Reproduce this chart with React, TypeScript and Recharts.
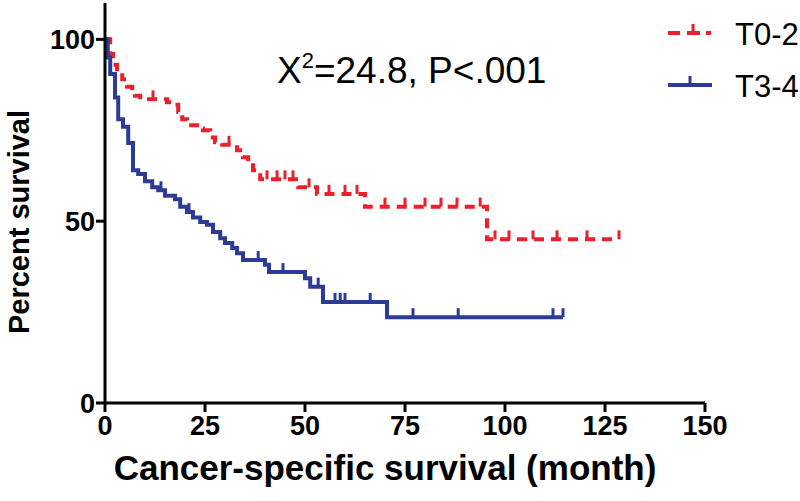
import React from "react";
import { LineChart, Line, XAxis, YAxis } from "recharts";

// Kaplan-Meier steps (month, percent surviving)
const t02Months = [0, 1.3, 2, 3, 4.3, 5.5, 6.8, 7.5, 8.8, 15.5, 16.8, 18.3, 19.3, 20.5, 23, 24.5, 26.3, 27.5, 29.3, 33, 34.5, 35.8, 37, 38.8, 48.3, 53, 65, 95.5];
const t02Survival = [100, 96, 93, 91, 89, 87, 85.5, 84.5, 83.5, 82.7, 82, 80, 78, 76.4, 75.5, 75, 73, 71.7, 71, 69.5, 67.6, 66, 64, 61.5, 59.3, 57.5, 54, 45];
const t02Censored = [12, 31, 40.5, 43, 45, 47, 51, 56, 60, 63, 70, 75, 80, 84, 88, 93.8, 97.5, 101, 107, 113, 120.5];
const t02LastMonth = 128.5;

const t34Months = [0, 0.7, 1.3, 2.5, 3.3, 4.5, 5.8, 7, 8.3, 10, 11.8, 13.3, 15, 17.5, 18.8, 20.5, 22, 23.8, 25.5, 27, 28.8, 30, 31.8, 33, 34.5, 40, 41, 50, 51.3, 54.5, 70.5];
const t34Survival = [100, 95, 90.5, 84, 78, 76, 71.5, 64, 63, 61, 59.3, 58.5, 57, 56, 54, 52.5, 51, 49.8, 49, 47, 45.3, 44, 42.6, 41.2, 39.3, 38, 36, 34.3, 32, 27.8, 23.6];
const t34Censored = [14, 21, 38.3, 44.5, 53.3, 57.5, 58.8, 60, 66.3, 77, 88.3, 112];
const t34LastMonth = 114.5;

const xTicks = [0, 25, 50, 75, 100, 125, 150];
const yTicks = [0, 50, 100];

const RED = "#e8212b";
const BLUE = "#2c3b95";
const FONT = "'Liberation Sans', Arial, sans-serif";

type Pt = { month: number; pct: number; censored: boolean };

function buildSeries(months: number[], surv: number[], censored: number[], last: number): Pt[] {
  const valueAt = (m: number) => {
    let v = surv[0];
    months.forEach((t, i) => {
      if (t <= m) v = surv[i];
    });
    return v;
  };
  const pts: Pt[] = months.map((m, i) => ({ month: m, pct: surv[i], censored: false }));
  censored.forEach((m) => pts.push({ month: m, pct: valueAt(m), censored: true }));
  pts.push({ month: last, pct: valueAt(last), censored: true });
  return pts.sort((a, b) => a.month - b.month);
}

const t02Data = buildSeries(t02Months, t02Survival, t02Censored, t02LastMonth);
const t34Data = buildSeries(t34Months, t34Survival, t34Censored, t34LastMonth);

const censorDot = (color: string) => (props: any) => {
  const { cx, cy, payload, index } = props;
  if (!payload || !payload.censored) return <g key={`n${index}`} />;
  return <line key={`c${index}`} x1={cx} x2={cx} y1={cy} y2={cy - 9} stroke={color} strokeWidth={3} />;
};

const YTitle = (props: any) => {
  const { viewBox } = props;
  const x = 19;
  const y = viewBox.y + viewBox.height / 2 + 19;
  return (
    <text x={x} y={y} transform={`rotate(-90 ${x} ${y})`} textAnchor="middle" dominantBaseline="central"
      style={{ fontFamily: FONT, fontWeight: 700, fontSize: 29, fill: "#000" }}>
      Percent survival
    </text>
  );
};

const XTitle = (props: any) => {
  const { viewBox } = props;
  const x = 385;
  return (
    <text x={x} y={viewBox.y + 77} textAnchor="middle"
      style={{ fontFamily: FONT, fontWeight: 700, fontSize: 35, fill: "#000" }}>
      Cancer-specific survival (month)
    </text>
  );
};

export default function App() {
  const tickStyle = { fontFamily: FONT, fontWeight: 700, fontSize: 27, fill: "#000" };
  return (
    <div style={{ position: "absolute", left: 0, top: 0, width: 800, height: 501, background: "#fff" }}>
      <LineChart width={800} height={501} margin={{ top: 3, right: 95, bottom: 0, left: 0 }}>
        <XAxis
          type="number"
          dataKey="month"
          domain={[0, 150]}
          ticks={xTicks}
          interval={0}
          height={98}
          axisLine={{ stroke: "#000", strokeWidth: 3 }}
          tickLine={{ stroke: "#000", strokeWidth: 3 }}
          tickSize={9}
          tickMargin={4}
          tick={tickStyle}
          label={<XTitle />}
          allowDuplicatedCategory={false}
        />
        <YAxis
          type="number"
          domain={[0, 110]}
          ticks={yTicks}
          interval={0}
          width={105}
          axisLine={{ stroke: "#000", strokeWidth: 3 }}
          tickLine={{ stroke: "#000", strokeWidth: 3 }}
          tickSize={9}
          tickMargin={1}
          tick={tickStyle}
          label={<YTitle />}
        />
        <Line
          data={t02Data}
          dataKey="pct"
          type="stepAfter"
          stroke={RED}
          strokeWidth={4}
          strokeDasharray="10 7"
          dot={censorDot(RED)}
          activeDot={false}
          isAnimationActive={false}
        />
        <Line
          data={t34Data}
          dataKey="pct"
          type="stepAfter"
          stroke={BLUE}
          strokeWidth={4}
          dot={censorDot(BLUE)}
          activeDot={false}
          isAnimationActive={false}
        />
      </LineChart>
      <svg width={800} height={501} style={{ position: "absolute", left: 0, top: 0, pointerEvents: "none" }}>
        <text x={277} y={83} style={{ fontFamily: FONT, fontSize: 37, fill: "#000" }}>
          X<tspan dy={-15} fontSize={22}>2</tspan>
          <tspan dy={15}>=24.8, P&lt;.001</tspan>
        </text>
        <line x1={668} x2={680} y1={33} y2={33} stroke={RED} strokeWidth={4} />
        <line x1={687} x2={700} y1={33} y2={33} stroke={RED} strokeWidth={4} />
        <line x1={693} x2={693} y1={33} y2={24} stroke={RED} strokeWidth={3} />
        <line x1={706} x2={711} y1={33} y2={33} stroke={RED} strokeWidth={4} />
        <text x={735} y={45} style={{ fontFamily: FONT, fontSize: 31, fill: "#000" }}>T0-2</text>
        <line x1={668} x2={712} y1={85} y2={85} stroke={BLUE} strokeWidth={4} />
        <line x1={690} x2={690} y1={85} y2={76} stroke={BLUE} strokeWidth={3} />
        <text x={735} y={97} style={{ fontFamily: FONT, fontSize: 31, fill: "#000" }}>T3-4</text>
      </svg>
    </div>
  );
}
